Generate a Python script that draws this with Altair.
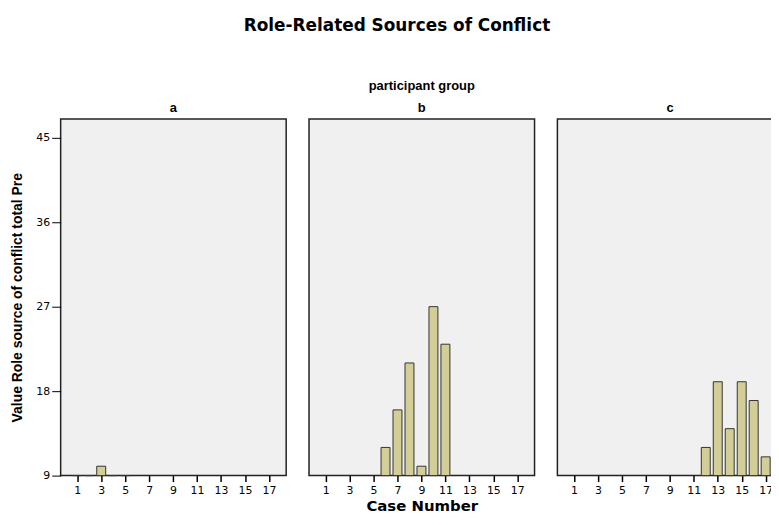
import altair as alt
import pandas as pd

groups = ["a", "a", "a", "a", "a",
          "b", "b", "b", "b", "b", "b",
          "c", "c", "c", "c", "c", "c"]
cases = [1, 2, 3, 4, 5,
         6, 7, 8, 9, 10, 11,
         12, 13, 14, 15, 16, 17]
values = [9, 9, 10, 9, 9,
          12, 16, 21, 10, 27, 23,
          12, 19, 14, 19, 17, 11]
group_names = ["a", "b", "c"]
x_ticks = [1, 3, 5, 7, 9, 11, 13, 15, 17]
y_ticks = [9, 18, 27, 36, 45]

df = pd.DataFrame({"group": groups, "case": cases, "value": values})

SANS = "Liberation Sans"
WIDE = "DejaVu Sans"
FILL = "#D3CE97"
FRAME = "#222222"
H = 359
W = 227
X_DOMAIN = [-0.385, 18.44]


def panel(name, first=False, middle=False):
    sub = df[df["group"] == name]
    x_axis = alt.Axis(values=x_ticks, grid=False, domain=False,
                      tickSize=6, tickColor="#000000", tickWidth=1.5,
                      labelFontSize=11, labelFont=WIDE, labelColor="#000000",
                      labelPadding=3, titleFont=WIDE, titleFontSize=15,
                      titleFontWeight="bold", titleBaseline="alphabetic",
                      titleY=35, titleColor="#000000")
    if first:
        y_axis = alt.Axis(values=y_ticks, grid=False, domain=False,
                          tickSize=9, tickColor="#000000", tickWidth=1,
                          labelFontSize=11, labelFont=WIDE,
                          labelColor="#000000", labelPadding=2,
                          titleFont=SANS, titleFontSize=14,
                          titleFontWeight="bold", titlePadding=11,
                          titleColor="#000000")
        y_title = "Value Role source of conflict total Pre"
    else:
        y_axis = None
        y_title = None
    bars = alt.Chart(sub).mark_bar(
        fill=FILL, stroke="#333333", strokeWidth=1, size=9
    ).encode(
        x=alt.X("case:Q", title="Case Number" if middle else None,
                scale=alt.Scale(domain=X_DOMAIN, nice=False, zero=False,
                                padding=0),
                axis=x_axis),
        y=alt.Y("value:Q", title=y_title,
                scale=alt.Scale(domain=[9, 47], nice=False, zero=False,
                                padding=0),
                axis=y_axis),
        y2=alt.datum(9),
    )
    if middle:
        title = alt.TitleParams(
            text="participant group", subtitle=name, font=SANS, fontSize=13,
            fontWeight="bold", color="#000000", subtitleFont=SANS,
            subtitleFontSize=13, subtitleFontWeight="bold",
            subtitleColor="#000000", subtitlePadding=9, offset=4,
            anchor="middle")
    else:
        title = alt.TitleParams(
            text=name, font=SANS, fontSize=13, fontWeight="bold",
            color="#000000", offset=4, anchor="middle")
    return bars.properties(width=W, height=H, title=title)


chart = alt.hconcat(
    panel("a", first=True),
    panel("b", middle=True),
    panel("c"),
    spacing=21,
).properties(
    title=alt.TitleParams("Role-Related Sources of Conflict", font=WIDE,
                          fontSize=17, fontWeight="bold", color="#000000",
                          offset=45, anchor="middle"),
    # the last panel runs past the right edge of the page, as in the original
    padding={"left": 2, "top": 7, "right": -13, "bottom": 2},
).configure_view(
    fill="#F0F0F0", stroke=FRAME, strokeWidth=1.5
)

chart.save("out.html", embed_options={"renderer": "svg", "actions": False})
